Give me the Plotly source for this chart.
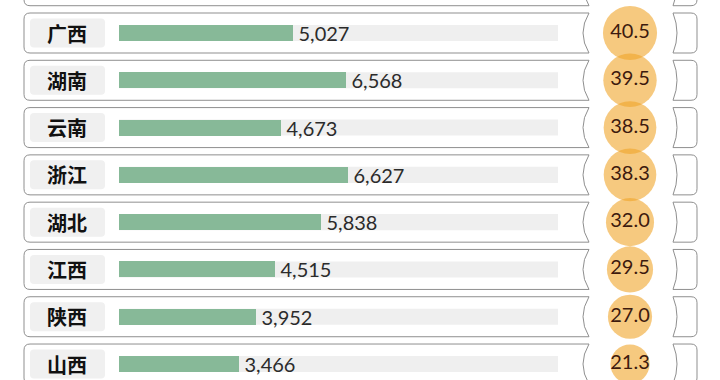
import plotly.graph_objects as go

# ---- data ----
provinces = ["广西", "湖南", "云南", "浙江", "湖北", "江西", "陕西", "山西"]
values = [5027, 6568, 4673, 6627, 5838, 4515, 3952, 3466]
rates = [40.5, 39.5, 38.5, 38.3, 32.0, 29.5, 27.0, 21.3]
# row above the crop: only the lower edge of its circle is visible
top_partial_rate = 41.0
x_max = 12700

W, H = 720, 380
BAR_COLOR = "#87b998"
TRACK_COLOR = "#efefef"
CARD_LINE = "#8f8f8f"
CIRCLE_COLOR = "rgba(240,165,40,0.85)"

rows = list(range(len(provinces)))
all_rows = [-1] + rows
all_rates = [top_partial_rate] + rates
all_texts = [""] + [f"{r:.1f}" for r in rates]

def px(x):
    return x / W

fig = go.Figure()

# bars
fig.add_trace(go.Bar(
    x=values, y=rows, orientation="h",
    marker=dict(color=BAR_COLOR, line=dict(width=0)),
    width=0.34,
    texttemplate="\u2009%{x:,}", textposition="outside",
    outsidetextfont=dict(family="Lato, Open Sans, sans-serif", size=20, color="#2b2b2b"),
    constraintext="none", cliponaxis=False,
    hoverinfo="skip", showlegend=False,
))

# circles with rates
fig.add_trace(go.Scatter(
    x=[0.875] * len(all_rows), y=all_rows,
    xaxis="x2", yaxis="y",
    mode="markers+text",
    marker=dict(size=all_rates, sizemode="area", sizeref=2 / 72.25,
                color=CIRCLE_COLOR, line=dict(width=0)),
    text=all_texts,
    textposition="middle center",
    textfont=dict(family="Lato, Open Sans, sans-serif", size=20, color="#3d1a0e"),
    cliponaxis=False, hoverinfo="skip", showlegend=False,
))

shapes = []
hh = 20 / 47.29   # half card height in row units
ry = 6 / 47.29
rx = 6 / W
for i in all_rows:
    yt, yb = i - hh, i + hh
    x0, x1, xc = px(24), px(589), px(577)
    path = (f"M {x0+rx},{yt} L {x1},{yt} Q {xc},{i} {x1},{yb} "
            f"L {x0+rx},{yb} Q {x0},{yb} {x0},{yb-ry} L {x0},{yt+ry} "
            f"Q {x0},{yt} {x0+rx},{yt} Z")
    shapes.append(dict(type="path", path=path, xref="paper", yref="y",
                       line=dict(color=CARD_LINE, width=1),
                       fillcolor="white", layer="below"))
    r0, r1, rc = px(673), px(697), px(681)
    path2 = (f"M {r0},{yt} L {r1-rx},{yt} Q {r1},{yt} {r1},{yt+ry} "
             f"L {r1},{yb-ry} Q {r1},{yb} {r1-rx},{yb} L {r0},{yb} "
             f"Q {rc},{i} {r0},{yt} Z")
    shapes.append(dict(type="path", path=path2, xref="paper", yref="y",
                       line=dict(color=CARD_LINE, width=1),
                       fillcolor="white", layer="below"))

for i in rows:
    # label box
    lh = 14.5 / 47.29
    lx0, lx1 = px(30), px(105)
    lr = 4 / W
    lry = 4 / 47.29
    path = (f"M {lx0+lr},{i-lh} L {lx1-lr},{i-lh} Q {lx1},{i-lh} {lx1},{i-lh+lry} "
            f"L {lx1},{i+lh-lry} Q {lx1},{i+lh} {lx1-lr},{i+lh} L {lx0+lr},{i+lh} "
            f"Q {lx0},{i+lh} {lx0},{i+lh-lry} L {lx0},{i-lh+lry} Q {lx0},{i-lh} {lx0+lr},{i-lh} Z")
    shapes.append(dict(type="path", path=path, xref="paper", yref="y",
                       line=dict(width=0), fillcolor="#f0f0f0", layer="below"))
    # track
    shapes.append(dict(type="rect", xref="x", yref="y", x0=0, x1=x_max,
                       y0=i - 0.17, y1=i + 0.17, line=dict(width=0),
                       fillcolor=TRACK_COLOR, layer="below"))

annotations = []
for i, name in zip(rows, provinces):
    annotations.append(dict(x=px(67), y=i, xref="paper", yref="y", text=name,
                            showarrow=False, xanchor="center", yanchor="middle",
                            font=dict(family="Noto Sans CJK SC", size=20,
                                      color="#111111", weight="bold")))

fig.update_layout(
    width=W, height=H,
    margin=dict(l=0, r=0, t=0, b=0),
    paper_bgcolor="white", plot_bgcolor="rgba(0,0,0,0)",
    bargap=0,
    xaxis=dict(domain=[119 / W, 558 / W], range=[0, x_max], visible=False, fixedrange=True),
    xaxis2=dict(domain=[0, 1], range=[0, 1], anchor="y", visible=False, fixedrange=True),
    yaxis=dict(domain=[0, 1], range=[(380 - 33) / 47.29, -33 / 47.29],
               visible=False, fixedrange=True),
    shapes=shapes, annotations=annotations,
    showlegend=False,
)

fig.write_html("out.html")
